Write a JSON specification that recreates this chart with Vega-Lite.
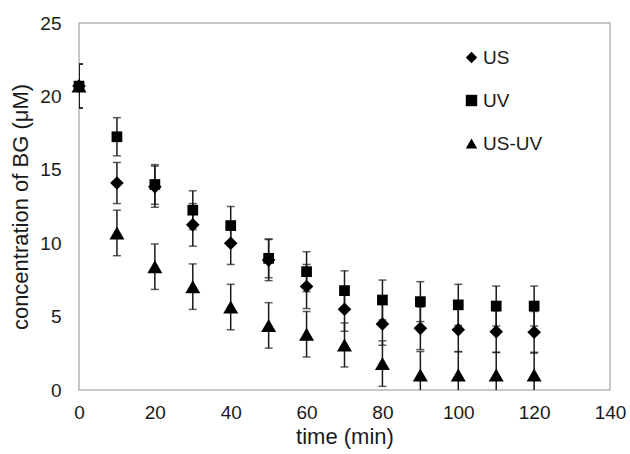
{
  "$schema": "https://vega.github.io/schema/vega-lite/v6.json",
  "width": 531,
  "height": 367,
  "autosize": {"type": "none"},
  "padding": {"left": 79, "top": 23, "right": 20, "bottom": 64},
  "background": "white",
  "config": {
    "view": {"stroke": "#b5b5b5", "strokeWidth": 1.5},
    "font": "Liberation Sans",
    "axis": {
      "grid": false,
      "domain": false,
      "ticks": false,
      "labelFlush": false,
      "labelFont": "Liberation Sans",
      "labelFontSize": 19,
      "labelColor": "#1a1a1a",
      "titleFont": "Liberation Sans",
      "titleFontSize": 22,
      "titleFontWeight": "normal",
      "titleColor": "#1a1a1a"
    },
    "legend": {
      "labelFont": "Liberation Sans",
      "labelFontSize": 19,
      "labelColor": "#1a1a1a"
    }
  },
  "data": {
    "values": [
      {"time": 0, "series": "US", "value": 20.7, "err": 1.5},
      {"time": 10, "series": "US", "value": 14.1, "err": 1.4},
      {"time": 20, "series": "US", "value": 13.85, "err": 1.4},
      {"time": 30, "series": "US", "value": 11.25, "err": 1.45},
      {"time": 40, "series": "US", "value": 10.0, "err": 1.45},
      {"time": 50, "series": "US", "value": 8.85, "err": 1.4},
      {"time": 60, "series": "US", "value": 7.05, "err": 1.5},
      {"time": 70, "series": "US", "value": 5.5, "err": 1.5},
      {"time": 80, "series": "US", "value": 4.5, "err": 1.45},
      {"time": 90, "series": "US", "value": 4.2, "err": 1.45},
      {"time": 100, "series": "US", "value": 4.1, "err": 1.5},
      {"time": 110, "series": "US", "value": 3.97, "err": 1.42},
      {"time": 120, "series": "US", "value": 3.93, "err": 1.42},
      {"time": 0, "series": "UV", "value": 20.7, "err": 1.5},
      {"time": 10, "series": "UV", "value": 17.25, "err": 1.3},
      {"time": 20, "series": "UV", "value": 14.0, "err": 1.35},
      {"time": 30, "series": "UV", "value": 12.25, "err": 1.32},
      {"time": 40, "series": "UV", "value": 11.2, "err": 1.3},
      {"time": 50, "series": "UV", "value": 8.97, "err": 1.32},
      {"time": 60, "series": "UV", "value": 8.06, "err": 1.36},
      {"time": 70, "series": "UV", "value": 6.77, "err": 1.35},
      {"time": 80, "series": "UV", "value": 6.13, "err": 1.36},
      {"time": 90, "series": "UV", "value": 6.02, "err": 1.36},
      {"time": 100, "series": "UV", "value": 5.8, "err": 1.4},
      {"time": 110, "series": "UV", "value": 5.72, "err": 1.36},
      {"time": 120, "series": "UV", "value": 5.72, "err": 1.36},
      {"time": 0, "series": "US-UV", "value": 20.7, "err": 1.5},
      {"time": 10, "series": "US-UV", "value": 10.7, "err": 1.55},
      {"time": 20, "series": "US-UV", "value": 8.4, "err": 1.55},
      {"time": 30, "series": "US-UV", "value": 7.04, "err": 1.55},
      {"time": 40, "series": "US-UV", "value": 5.65, "err": 1.55},
      {"time": 50, "series": "US-UV", "value": 4.4, "err": 1.55},
      {"time": 60, "series": "US-UV", "value": 3.8, "err": 1.55},
      {"time": 70, "series": "US-UV", "value": 3.07, "err": 1.5},
      {"time": 80, "series": "US-UV", "value": 1.8, "err": 1.55},
      {"time": 90, "series": "US-UV", "value": 1.02, "err": 1.6},
      {"time": 100, "series": "US-UV", "value": 1.02, "err": 1.6},
      {"time": 110, "series": "US-UV", "value": 1.02, "err": 1.55},
      {"time": 120, "series": "US-UV", "value": 1.02, "err": 1.55}
    ]
  },
  "encoding": {
    "x": {
      "field": "time",
      "type": "quantitative",
      "scale": {"domain": [0, 140], "nice": false},
      "axis": {
        "values": [0, 20, 40, 60, 80, 100, 120, 140],
        "title": "time (min)",
        "labelPadding": 13,
        "titleBaseline": "alphabetic",
        "titleY": 53
      }
    },
    "y": {
      "field": "value",
      "type": "quantitative",
      "scale": {"domain": [0, 25], "nice": false},
      "axis": {
        "values": [0, 5, 10, 15, 20, 25],
        "title": "concentration of BG (μM)",
        "labelPadding": 18,
        "titleBaseline": "alphabetic",
        "titleX": -52
      }
    }
  },
  "layer": [
    {
      "mark": {
        "type": "errorbar",
        "clip": true,
        "ticks": {"size": 8, "thickness": 1.5, "color": "#1a1a1a"},
        "rule": {"strokeWidth": 1.5, "color": "#1a1a1a"}
      },
      "encoding": {
        "yError": {"field": "err"},
        "detail": {"field": "series"}
      }
    },
    {
      "transform": [{"filter": "datum.series == 'US'"}],
      "mark": {"type": "point", "filled": true, "opacity": 1, "color": "#000000", "size": 185},
      "encoding": {
        "shape": {
          "field": "series",
          "type": "nominal",
          "scale": {"domain": ["US", "UV", "US-UV"], "range": ["diamond", "square", "triangle-up"]},
          "legend": {
            "title": null,
            "orient": "none",
            "legendX": 383,
            "legendY": 25,
            "symbolSize": 130,
            "symbolFillColor": "#000000",
            "symbolStrokeWidth": 0,
            "labelOffset": 2,
            "rowPadding": 23
          }
        }
      }
    },
    {
      "transform": [{"filter": "datum.series == 'UV'"}],
      "mark": {"type": "point", "filled": true, "opacity": 1, "color": "#000000", "size": 115},
      "encoding": {
        "shape": {"field": "series", "type": "nominal"}
      }
    },
    {
      "transform": [{"filter": "datum.series == 'US-UV'"}],
      "mark": {"type": "point", "filled": true, "opacity": 1, "color": "#000000", "size": 225},
      "encoding": {
        "shape": {"field": "series", "type": "nominal"}
      }
    }
  ]
}
